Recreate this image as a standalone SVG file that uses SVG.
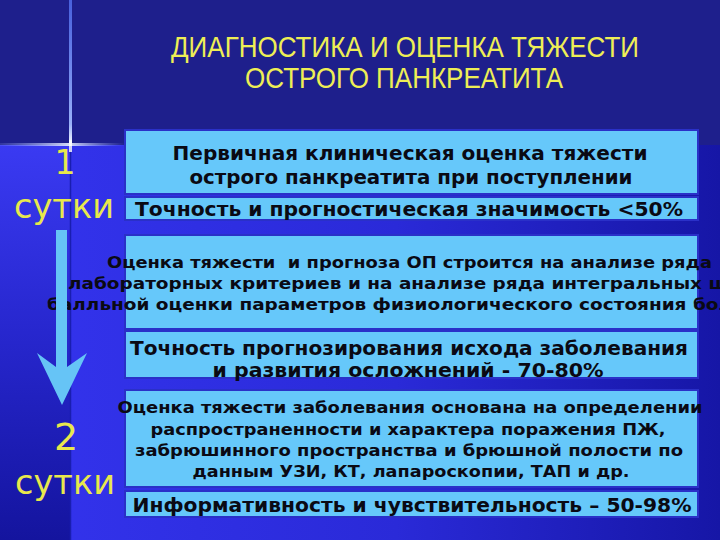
<svg xmlns="http://www.w3.org/2000/svg" width="720" height="540" viewBox="0 0 720 540">
  <defs>
    <linearGradient id="gMain" x1="0" y1="0" x2="1" y2="0">
      <stop offset="0" stop-color="#3434ee"/>
      <stop offset="0.55" stop-color="#2a2ad8"/>
      <stop offset="1" stop-color="#1616a6"/>
    </linearGradient>
    <linearGradient id="gLeft" x1="0" y1="0" x2="0" y2="1">
      <stop offset="0" stop-color="#3a3af2"/>
      <stop offset="0.5" stop-color="#2626cc"/>
      <stop offset="1" stop-color="#14149e"/>
    </linearGradient>
    <linearGradient id="gGlowH" x1="0" y1="0" x2="1" y2="0">
      <stop offset="0" stop-color="#9fb4ff" stop-opacity="0.15"/>
      <stop offset="0.55" stop-color="#e6ecff" stop-opacity="0.9"/>
      <stop offset="1" stop-color="#9fb4ff" stop-opacity="0"/>
    </linearGradient>
    <linearGradient id="gGlowV" x1="0" y1="0" x2="0" y2="1">
      <stop offset="0" stop-color="#5a7cff" stop-opacity="0.7"/>
      <stop offset="0.85" stop-color="#9fb8ff" stop-opacity="0.95"/>
      <stop offset="1" stop-color="#ffffff" stop-opacity="1"/>
    </linearGradient>
    <style>
      .title { font-family: "Liberation Sans", Arial, sans-serif; font-size: 29px; fill: #eeee55; text-anchor: middle; }
      .day { font-family: "DejaVu Sans", "Liberation Sans", sans-serif; fill: #e8e84c; text-anchor: middle; }
      .box { fill: #66c8fa; stroke: #2a30c8; stroke-width: 2; }
      .t { font-family: "DejaVu Sans", Verdana, sans-serif; font-weight: bold; fill: #0a0a14; }
      .c { text-anchor: middle; }
      .arrow { fill: #66c4f6; }
    </style>
  </defs>

  <!-- background -->
  <rect x="0" y="0" width="720" height="540" fill="url(#gMain)"/>
  <rect x="0" y="145" width="70" height="395" fill="url(#gLeft)"/>
  <rect x="0" y="0" width="720" height="145" fill="#1e1f8c"/>
  <line x1="70.5" y1="145" x2="70.5" y2="540" stroke="#1a1eb0" stroke-width="1.5"/>
  <rect x="69" y="0" width="3" height="146" fill="url(#gGlowV)"/>
  <rect x="0" y="143" width="125" height="3" fill="url(#gGlowH)"/>
  <rect x="69" y="140" width="3" height="12" fill="#ffffff" opacity="0.8"/>

  <!-- title -->
  <g id="title">
    <text class="title" x="405" y="57" textLength="468" lengthAdjust="spacingAndGlyphs">ДИАГНОСТИКА И ОЦЕНКА ТЯЖЕСТИ</text>
    <text class="title" x="404" y="88" textLength="318" lengthAdjust="spacingAndGlyphs">ОСТРОГО ПАНКРЕАТИТА</text>
  </g>

  <!-- day labels -->
  <g id="day1">
    <text class="day" x="65" y="174" font-size="33">1</text>
    <text class="day" x="64" y="218" font-size="34" textLength="100" lengthAdjust="spacingAndGlyphs">сутки</text>
  </g>
  <g id="day2">
    <text class="day" x="66" y="450" font-size="38">2</text>
    <text class="day" x="65" y="494" font-size="34" textLength="100" lengthAdjust="spacingAndGlyphs">сутки</text>
  </g>

  <!-- box 1 -->
  <g id="box1">
    <rect class="box" x="125" y="130" width="573" height="64"/>
    <text class="t c" x="410" y="160" font-size="19" textLength="475" lengthAdjust="spacingAndGlyphs">Первичная клиническая оценка тяжести</text>
    <text class="t c" x="411" y="184" font-size="19" textLength="443" lengthAdjust="spacingAndGlyphs">острого панкреатита при поступлении</text>
  </g>
  <g id="box1b">
    <rect class="box" x="125" y="197" width="573" height="23"/>
    <text class="t c" x="409" y="216" font-size="19" textLength="548" lengthAdjust="spacingAndGlyphs">Точность и прогностическая значимость &lt;50%</text>
  </g>

  <!-- box 2 -->
  <g id="box2">
    <rect class="box" x="125" y="235" width="573" height="94"/>
    <text class="t" x="107" y="268" font-size="16" textLength="605" lengthAdjust="spacingAndGlyphs" xml:space="preserve">Оценка тяжести  и прогноза ОП строится на анализе ряда</text>
    <text class="t" x="68" y="289" font-size="16" textLength="660" lengthAdjust="spacingAndGlyphs">лабораторных критериев и на анализе ряда интегральных ш</text>
    <text class="t" x="47" y="310" font-size="16" textLength="685" lengthAdjust="spacingAndGlyphs">балльной оценки параметров физиологического состояния бол</text>
  </g>
  <g id="box2b">
    <rect class="box" x="125" y="331" width="573" height="47"/>
    <text class="t c" x="409" y="355" font-size="19" textLength="558" lengthAdjust="spacingAndGlyphs">Точность прогнозирования исхода заболевания</text>
    <text class="t c" x="408" y="377" font-size="19" textLength="391" lengthAdjust="spacingAndGlyphs">и развития осложнений - 70-80%</text>
  </g>

  <!-- box 3 -->
  <g id="box3">
    <rect class="box" x="125" y="390" width="573" height="97"/>
    <text class="t c" x="410" y="413" font-size="16.5" textLength="585" lengthAdjust="spacingAndGlyphs">Оценка тяжести заболевания основана на определении</text>
    <text class="t c" x="408" y="435" font-size="16.5" textLength="515" lengthAdjust="spacingAndGlyphs">распространенности и характера поражения ПЖ,</text>
    <text class="t c" x="409" y="456" font-size="16.5" textLength="548" lengthAdjust="spacingAndGlyphs">забрюшинного пространства и брюшной полости по</text>
    <text class="t c" x="411" y="477" font-size="16.5" textLength="437" lengthAdjust="spacingAndGlyphs">данным УЗИ, КТ, лапароскопии, ТАП и др.</text>
  </g>
  <g id="box3b">
    <rect class="box" x="125" y="491" width="573" height="26"/>
    <text class="t c" x="412" y="512" font-size="19" textLength="559" lengthAdjust="spacingAndGlyphs">Информативность и чувствительность – 50-98%</text>
  </g>

  <!-- connectors -->
  <g id="connectors">
    <polygon class="arrow" points="56,230 67,230 67,367 87,353 62,405 37,353 56,367"/>
  </g>
</svg>
